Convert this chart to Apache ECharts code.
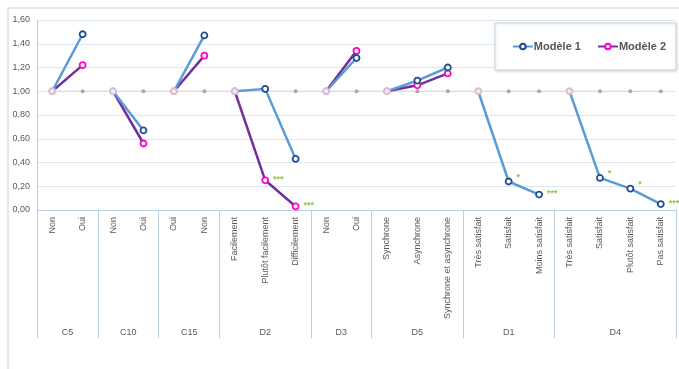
<!DOCTYPE html>
<html><head><meta charset="utf-8">
<script src="https://cdn.jsdelivr.net/npm/echarts@6/dist/echarts.min.js"></script>
<style>html,body{margin:0;padding:0;background:#fff}#c{width:679px;height:369px}</style>
</head><body><div id="c"></div>
<script>
// Groups and their categories
const groups = ["C5", "C10", "C15", "D2", "D3", "D5", "D1", "D4"];
const groupCats = [
  ["Non", "Oui"],
  ["Non", "Oui"],
  ["Oui", "Non"],
  ["Facilement", "Plutôt facilement", "Difficilement"],
  ["Non", "Oui"],
  ["Synchrone", "Asynchrone", "Synchrone et asynchrone"],
  ["Très satisfait", "Satisfait", "Moins satisfait"],
  ["Très satisfait", "Satisfait", "Plutôt satisfait", "Pas satisfait"]
];
// Values per group (null = not shown)
const model1 = [
  [1.00, 1.48],
  [1.00, 0.67],
  [1.00, 1.47],
  [1.00, 1.02, 0.43],
  [1.00, 1.28],
  [1.00, 1.09, 1.20],
  [1.00, 0.24, 0.13],
  [1.00, 0.27, 0.18, 0.05]
];
const model2 = [
  [1.00, 1.22],
  [1.00, 0.56],
  [1.00, 1.30],
  [1.00, 0.25, 0.03],
  [1.00, 1.34],
  [1.00, 1.05, 1.15],
  [null, null, null],
  [null, null, null, null]
];
const stars1 = [
  ["", ""], ["", ""], ["", ""], ["", "", ""], ["", ""], ["", "", ""],
  ["", "*", "***"], ["", "*", "*", "***"]
];
const stars2 = [
  ["", ""], ["", ""], ["", ""], ["", "***", "***"], ["", ""], ["", "", ""],
  ["", "", ""], ["", "", "", ""]
];
const refValue = 1.00;

const cats = [];
const starts = [];
groupCats.forEach(g => { starts.push(cats.length); g.forEach(c => cats.push(c)); });
const N = cats.length;

// secondary axis: 2N+1 half-slots
const half = [];
const halfLabel = {};
const boundary = {};
groups.forEach((g, i) => {
  const s = starts[i], n = groupCats[i].length;
  halfLabel[2 * s + n] = g;
  boundary[2 * s] = true;
});
boundary[2 * N] = true;
for (let i = 0; i <= 2 * N; i++) half.push(halfLabel[i] || "");

const font = "Liberation Sans";
const series = [];
series.push({
  name: "ref", type: "line", data: cats.map(() => refValue),
  symbol: "circle", symbolSize: 4, itemStyle: { color: "#A9A9A9" },
  lineStyle: { color: "#D6D6D6", width: 1 }, z: 1, silent: true
});

function addModel(name, vals, stars, lineColor, markColor) {
  vals.forEach((g, gi) => {
    const data = new Array(N).fill(null);
    g.forEach((v, k) => {
      if (v === null) return;
      const item = { value: v };
      if (k === 0) {
        item.itemStyle = { borderColor: "#D9BCD3", color: "#F2ECF1" };
      }
      const st = stars[gi][k];
      if (st) {
        item.label = { show: true, formatter: st, position: "right",
          color: "#8DC63F", fontSize: 9, fontWeight: "bold", fontFamily: font,
          distance: 4, offset: st === "*" ? [0, -4] : [0, -1] };
      }
      data[starts[gi] + k] = item;
    });
    series.push({
      name: name, type: "line", data: data, connectNulls: false,
      symbol: "circle", symbolSize: 6, showAllSymbol: true,
      lineStyle: { color: lineColor, width: 2.5 },
      itemStyle: { color: "#fff", borderColor: markColor, borderWidth: 1.8 },
      z: name === "Modèle 1" ? 3 : 2
    });
  });
}
addModel("Modèle 1", model1, stars1, "#5B9BD5", "#1F4E8C");
addModel("Modèle 2", model2, stars2, "#7030A0", "#FF00CC");

const chart = echarts.init(document.getElementById("c"), null, { renderer: "canvas" });
chart.setOption({
  animation: false,
  backgroundColor: "#fff",
  textStyle: { fontFamily: font },
  grid: { left: 37, right: 0, top: 20, bottom: 159, containLabel: false },
  legend: {
    data: ["Modèle 1", "Modèle 2"], right: 3, top: 23,
    backgroundColor: "#fff", borderColor: "#C5D3E2", borderWidth: 1,
    padding: [18, 10, 18, 17], itemGap: 16, itemWidth: 20, itemHeight: 7,
    shadowColor: "rgba(0,0,0,0.15)", shadowBlur: 3, shadowOffsetX: 1, shadowOffsetY: 1,
    textStyle: { fontSize: 11, fontWeight: "bold", color: "#555", fontFamily: font, padding: [0, 0, 0, -4] }
  },
  xAxis: [
    {
      type: "category", data: cats, boundaryGap: true, position: "bottom",
      axisLine: { lineStyle: { color: "#B8CCE4", width: 1 } },
      axisTick: { show: false },
      axisLabel: { rotate: 90, interval: 0, fontSize: 9, color: "#595959", margin: 7, fontFamily: font }
    },
    {
      type: "category", data: half, boundaryGap: false, position: "bottom",
      axisLine: { show: false },
      axisTick: { show: true, length: 128, interval: (i) => !!boundary[i], lineStyle: { color: "#B8CCE4" } },
      axisLabel: { interval: 0, fontSize: 9, color: "#595959", margin: 118, fontFamily: font,
        formatter: (v) => v }
    }
  ],
  yAxis: {
    type: "value", min: 0, max: 1.6, interval: 0.2,
    axisLine: { show: true, lineStyle: { color: "#B8CCE4" } },
    axisTick: { show: false },
    splitLine: { lineStyle: { color: "#DCE6F2", width: 1 } },
    axisLabel: { fontSize: 9, color: "#595959", margin: 7, fontFamily: font,
      formatter: (v) => v.toFixed(2).replace(".", ",") }
  },
  graphic: [
    { type: "rect", shape: { x: 8, y: 8, width: 680, height: 380 }, style: { fill: "none", stroke: "#C8D4E0", lineWidth: 1 }, silent: true, z: -1 }
  ],
  series: series
});
</script></body></html>
